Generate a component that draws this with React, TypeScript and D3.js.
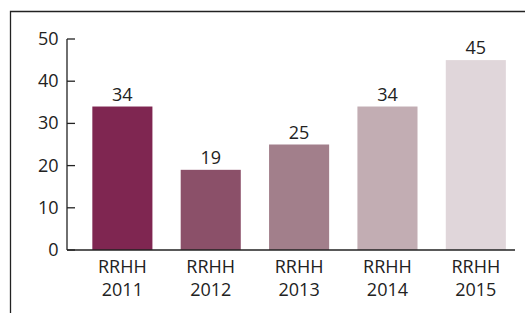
import React from "react";
import * as d3 from "d3";

const categories = ["RRHH 2011", "RRHH 2012", "RRHH 2013", "RRHH 2014", "RRHH 2015"];
const values = [34, 19, 25, 34, 45];
const colors = ["#7f2651", "#8b5069", "#a27f8b", "#c2adb3", "#e0d6da"];
const yTicks = [0, 10, 20, 30, 40, 50];

export default function App() {
  const W = 525, H = 313;
  const font = "'Open Sans', 'Noto Sans', sans-serif";
  const y = d3.scaleLinear().domain([0, 50]).range([250, 39]);
  const x = d3.scaleBand<string>().domain(categories).range([78.2, 520]).paddingInner(0.32).paddingOuter(0.16);
  const axisX0 = 67, axisX1 = 515;
  return (
    <svg width={W} height={H} style={{ position: "absolute", left: 0, top: 0 }}>
      <rect x={0} y={0} width={W} height={H} fill="#fff" />
      <path d={`M10.5,${H + 5}V11.5H${W + 5}`} fill="none" stroke="#222" strokeWidth={1.3} />
      {categories.map((c, i) => (
        <g key={c}>
          <rect x={x(c)} y={y(values[i])} width={x.bandwidth()} height={y(0) - y(values[i])} fill={colors[i]} />
          <text x={(x(c) as number) + x.bandwidth() / 2} y={y(values[i]) - 6} textAnchor="middle" fontFamily={font} fontSize={18} fill="#222">{values[i]}</text>
          {c.split(" ").map((t, j) => (
            <text key={j} x={(x(c) as number) + x.bandwidth() / 2} y={273 + j * 22.5} textAnchor="middle" fontFamily={font} fontSize={18} fill="#222">{t}</text>
          ))}
        </g>
      ))}
      <line x1={axisX0} x2={axisX0} y1={y(50)} y2={y(0)} stroke="#222" strokeWidth={1.3} />
      <line x1={axisX0} x2={axisX1} y1={y(0)} y2={y(0)} stroke="#222" strokeWidth={1.3} />
      {yTicks.map((t) => (
        <g key={t}>
          <line x1={axisX0} x2={axisX0 + 8} y1={y(t)} y2={y(t)} stroke="#222" strokeWidth={1.3} />
          <text x={58.5} y={y(t) + 6} textAnchor="end" fontFamily={font} fontSize={18} fill="#222">{t}</text>
        </g>
      ))}
    </svg>
  );
}
